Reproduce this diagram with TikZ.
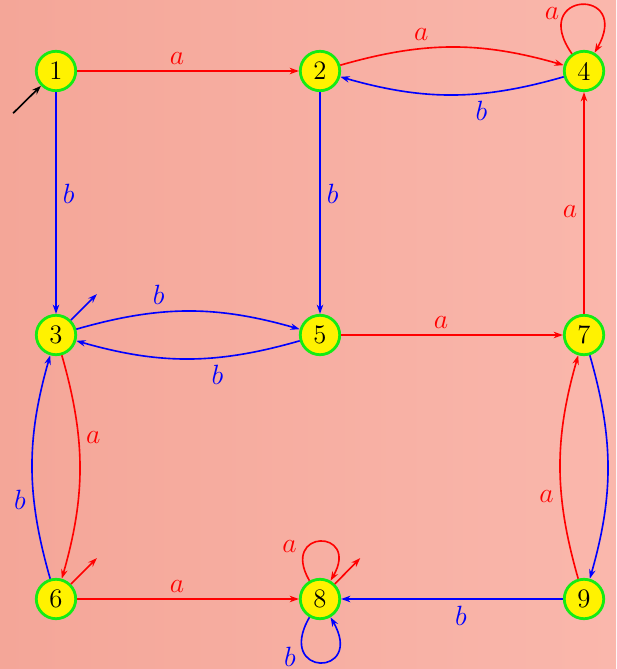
\documentclass[tikz,border=0pt]{standalone}
\usetikzlibrary{arrows.meta,calc}
\definecolor{bgL}{RGB}{244,166,152}
\definecolor{bgR}{RGB}{250,183,172}
\definecolor{ringgreen}{RGB}{20,235,20}
\begin{document}
\begin{tikzpicture}[
  font=\fontsize{11.5}{14}\selectfont,
  state/.style={circle, draw=ringgreen, fill=yellow, line width=1.2pt, minimum size=17pt, inner sep=0pt},
  tr/.style={-{Stealth[length=4pt,width=2.8pt]}, line width=0.7pt},
  ra/.style={tr, red},
  bb/.style={tr, blue},
  lb/.style={auto, inner sep=2.6pt},
  bl/.style={bend left=16}
]
\shade[left color=bgL, right color=bgR] (-0.8485,1.0757) rectangle (8.4848,-9.0606);
\useasboundingbox (-0.8485,1.0757) rectangle (8.4848,-9.0606);

\node[state] (n1) at (0,0) {1};
\node[state] (n2) at (4,0) {2};
\node[state] (n4) at (8,0) {4};
\node[state] (n3) at (0,-4) {3};
\node[state] (n5) at (4,-4) {5};
\node[state] (n7) at (8,-4) {7};
\node[state] (n6) at (0,-8) {6};
\node[state] (n8) at (4,-8) {8};
\node[state] (n9) at (8,-8) {9};

% initial and final markers
\coordinate (i1) at ($(n1)+(-0.65,-0.64)$);
\draw[tr, black] (i1) -- (n1);
\coordinate (f3) at ($(n3)+(0.62,0.62)$);
\coordinate (f6) at ($(n6)+(0.62,0.62)$);
\coordinate (f8) at ($(n8)+(0.61,0.62)$);
\draw[bb] (n3) -- (f3);
\draw[ra] (n6) -- (f6);
\draw[ra] (n8) -- (f8);

% straight transitions
\path (n1) edge[ra] node[lb,pos=.45] {$a$} (n2);
\path (n1) edge[bb] node[lb,pos=.46] {$b$} (n3);
\path (n2) edge[bb] node[lb,pos=.46] {$b$} (n5);
\path (n7) edge[ra] node[lb,pos=.46] {$a$} (n4);
\path (n5) edge[ra] node[lb,pos=.45] {$a$} (n7);
\path (n6) edge[ra] node[lb,pos=.45] {$a$} (n8);
\path (n9) edge[bb] node[lb,pos=.46] {$b$} (n8);

% curved transitions
\path (n2) edge[ra,bl] node[lb,pos=.42] {$a$} (n4);
\path (n4) edge[bb,bl] node[lb,pos=.42] {$b$} (n2);
\path (n3) edge[bb,bl] node[lb,pos=.42] {$b$} (n5);
\path (n5) edge[bb,bl] node[lb,pos=.42] {$b$} (n3);
\path (n3) edge[ra,bl] node[lb,pos=.42] {$a$} (n6);
\path (n6) edge[bb,bl] node[lb,pos=.42] {$b$} (n3);
\path (n7) edge[bb,bl] node[lb,pos=.45, inner sep=4pt] {$b$} (n9);
\path (n9) edge[ra,bl] node[lb,pos=.42] {$a$} (n7);

% loops
\path (n4) edge[ra, out=125, in=60, distance=33pt] node[pos=.3, left, inner sep=2pt] {$a$} (n4);
\path (n8) edge[ra, out=120, in=60, distance=26pt] node[pos=.33, left, inner sep=4.5pt] {$a$} (n8);
\path (n8) edge[bb, out=240, in=300, distance=30pt] node[pos=.33, left, inner sep=4.5pt] {$b$} (n8);
\end{tikzpicture}
\end{document}
